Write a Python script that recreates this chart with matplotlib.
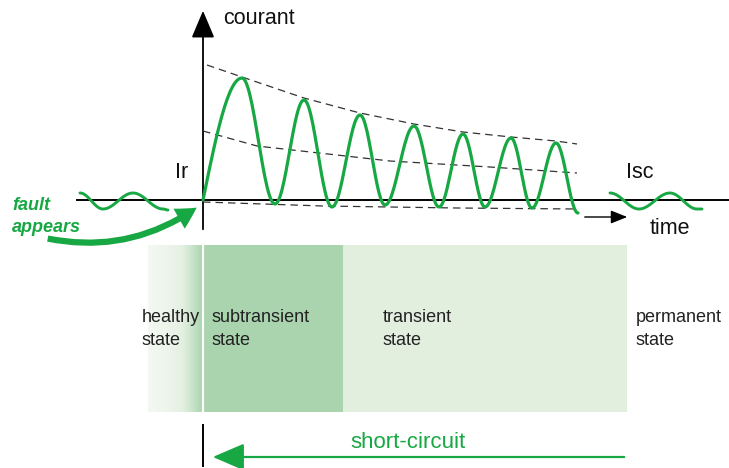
import numpy as np
import matplotlib.pyplot as plt
from matplotlib.patches import FancyArrowPatch, Rectangle
from matplotlib.colors import LinearSegmentedColormap

plt.rcParams["font.family"] = ["Liberation Sans", "DejaVu Sans"]

GREEN = "#17a843"

# short-circuit current: extrema of the waveform (pixel space, y down)
start_pt = (203, 200)
peak_x = [242, 304, 360, 414, 463, 511, 556]
peak_y = [78, 100, 115, 126, 134, 138, 143]
trough_x = [275, 332, 385, 439, 485, 532]
trough_y = [204, 207, 205, 207, 207, 208]
end_pt = (578, 213)

# envelopes (dashed)
env_up_x = [207, 242, 304, 360, 414, 463, 511, 556, 577]
env_up_y = [65, 77, 98, 113, 124, 132, 137, 141, 144]
env_mid_x = [203, 257, 390, 490, 577]
env_mid_y = [131, 146, 161, 167, 173]
env_low_x = [203, 323, 457, 578]
env_low_y = [202, 206, 208, 209]

# steady-state wiggles before and after the fault
pre_x = [80, 103, 133, 163, 168]
pre_y = [193, 209, 193, 209, 210]
post_x = [610, 639, 670, 697, 702]
post_y = [193, 209, 193, 209, 209]

# state bands
band_edges = [148, 203, 343, 627]
band_top, band_bot = 245, 412
state_labels = ["healthy\nstate", "subtransient\nstate", "transient\nstate", "permanent\nstate"]
label_x = [142, 212, 383, 636]


def smooth(xs, ys, n=30, first_quarter=False):
    # half-cosine strokes between consecutive extrema
    out_x, out_y = [], []
    for i in range(len(xs) - 1):
        s = np.linspace(0, 1, n)
        if first_quarter and i == 0:
            w = np.sin(np.pi / 2 * s)
        else:
            w = (1 - np.cos(np.pi * s)) / 2
        out_x.extend(xs[i] + (xs[i + 1] - xs[i]) * s)
        out_y.extend(ys[i] + (ys[i + 1] - ys[i]) * w)
    return out_x, out_y


fig = plt.figure(figsize=(7.29, 4.68), dpi=100)
ax = fig.add_axes([0, 0, 1, 1])

# bands
cmap = LinearSegmentedColormap.from_list("fade", ["#f3f8f2", "#e4f0e2", "#a9d4ad"])
grad = np.linspace(0, 1, 200)[None, :] ** 1.5
ax.imshow(grad, cmap=cmap, extent=[band_edges[0], band_edges[1], band_bot, band_top],
          aspect="auto", zorder=1)
ax.add_patch(Rectangle((band_edges[1], band_top), band_edges[2] - band_edges[1],
                       band_bot - band_top, color="#a9d4ad", lw=0, zorder=1))
ax.add_patch(Rectangle((band_edges[2], band_top), band_edges[3] - band_edges[2],
                       band_bot - band_top, color="#e2efde", lw=0, zorder=1))
ax.plot([band_edges[1], band_edges[1]], [band_top, band_bot], color="white", lw=1.6, zorder=2)
ax.set_xlim(0, 729)
ax.set_ylim(468, 0)
ax.axis("off")

for lx, lab in zip(label_x, state_labels):
    ax.text(lx, 329, lab, fontsize=13, color="#222222", ha="left", va="center",
            linespacing=1.45, zorder=3)

# axes
ax.plot([77, 729], [200, 200], color="black", lw=1.4, zorder=3)
ax.add_patch(FancyArrowPatch((203, 232), (203, 8), arrowstyle="-|>,head_length=1.3,head_width=0.55",
                             mutation_scale=13, color="black", lw=1.3, zorder=3))
ax.plot([203, 203], [425, 466], color="black", lw=1.4, zorder=3)
ax.add_patch(FancyArrowPatch((582, 217), (630, 217), arrowstyle="-|>,head_length=1.0,head_width=0.4",
                             mutation_scale=10, color="black", lw=1.0, zorder=3))

# envelopes
for ex, ey in [(env_up_x, env_up_y), (env_mid_x, env_mid_y), (env_low_x, env_low_y)]:
    ax.plot(ex, ey, color="#333333", lw=0.9, dashes=(6, 4), zorder=4)

# waveform
wx = [start_pt[0]]
wy = [start_pt[1]]
for i in range(len(peak_x)):
    wx.append(peak_x[i])
    wy.append(peak_y[i])
    if i < len(trough_x):
        wx.append(trough_x[i])
        wy.append(trough_y[i])
wx.append(end_pt[0])
wy.append(end_pt[1])
cx, cy = smooth(wx, wy, first_quarter=True)
ax.plot(cx, cy, color=GREEN, lw=2.3, solid_capstyle="round", zorder=5)

for sx, sy in [(pre_x, pre_y), (post_x, post_y)]:
    px, py = smooth(sx, sy)
    ax.plot(px, py, color=GREEN, lw=2.1, solid_capstyle="round", zorder=5)

# labels
ax.text(223, 19, "courant", fontsize=15.5, ha="left", va="center", color="#111111")
ax.text(182, 172, "Ir", fontsize=15.5, ha="center", va="center", color="#111111")
ax.text(640, 172, "Isc", fontsize=15.5, ha="center", va="center", color="#111111")
ax.text(670, 229, "time", fontsize=15.5, ha="center", va="center", color="#111111")
ax.text(12, 205, "fault", fontsize=13, fontweight="bold", fontstyle="italic",
        color=GREEN, ha="left", va="center")
ax.text(12, 228, "appears", fontsize=13, fontweight="bold", fontstyle="italic",
        color=GREEN, ha="left", va="center")
ax.add_patch(FancyArrowPatch((45, 238), (199, 206), connectionstyle="arc3,rad=0.22",
                             arrowstyle="simple,head_length=1.0,head_width=1.1,tail_width=0.3",
                             mutation_scale=15, color=GREEN, lw=0, zorder=6))

# short-circuit arrow
ax.text(408, 442, "short-circuit", fontsize=16, color=GREEN, ha="center", va="center")
ax.add_patch(FancyArrowPatch((627, 457), (210, 457), arrowstyle="-|>,head_length=1.4,head_width=0.6",
                             mutation_scale=14, color=GREEN, lw=1.6, zorder=6))

fig.savefig("out.png", dpi=100)
